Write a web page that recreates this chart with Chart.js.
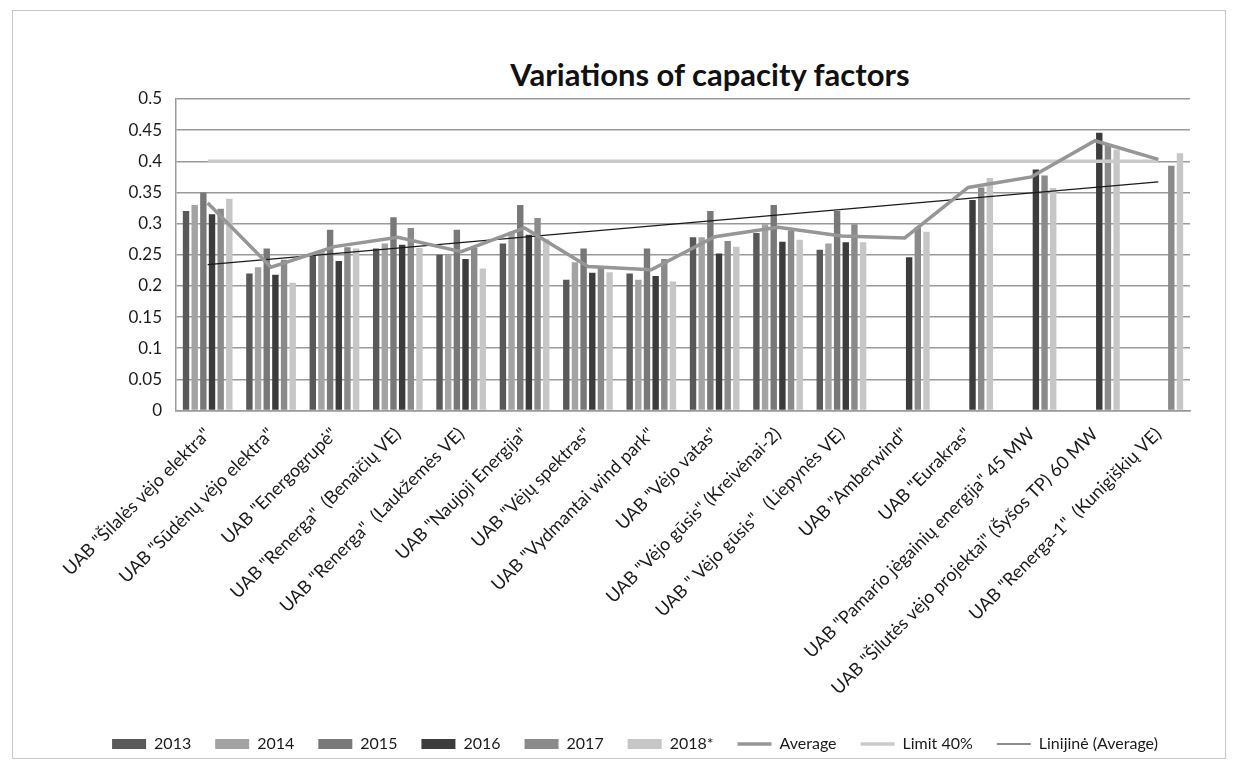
<!DOCTYPE html>
<html>
<head>
<meta charset="utf-8">
<script src="https://cdn.jsdelivr.net/npm/chart.js@4.4.1/dist/chart.umd.min.js"></script>
<style>
    html, body { margin: 0; padding: 0; background: #fff; }
    #wrap { position: relative; width: 1236px; height: 774px; }
    #frame { position: absolute; left: 12px; top: 10px; width: 1212px; height: 747px; border: 1px solid #c8c8c8; }
    #title { position: absolute; top: 55px; left: 0; width: 1420px; text-align: center; font: bold 31px Lato, sans-serif; color: #111; }
    canvas { position: absolute; left: 0; top: 0; }
</style>
</head>
<body>
<div id="wrap">
    <div id="frame"></div>
    <div id="title">Variations of capacity factors</div>
    <canvas id="cf" width="1236" height="774"></canvas>
</div>
<script>
const companies = [
    'UAB "Šilalės vėjo elektra"',
    'UAB "Sūdėnų vėjo elektra"',
    'UAB "Energogrupė"',
    'UAB "Renerga"  (Benaičių VE)',
    'UAB "Renerga"  (Laukžemės VE)',
    'UAB "Naujoji Energija"',
    'UAB "Vėjų spektras"',
    'UAB "Vydmantai wind park"',
    'UAB "Vėjo vatas"',
    'UAB "Vėjo gūsis" (Kreivėnai-2)',
    'UAB " Vėjo gūsis"   (Liepynės VE)',
    'UAB "Amberwind"',
    'UAB "Eurakras"',
    'UAB "Pamario jėgainių energija" 45 MW',
    'UAB "Šilutės vėjo projektai" (Šyšos TP) 60 MW',
    'UAB "Renerga-1"  (Kunigiškių VE)'
];

const cf2013 = [0.32, 0.22, 0.25, 0.26, 0.25, 0.268, 0.21, 0.22, 0.278, 0.285, 0.258, null, null, null, null, null];
const cf2014 = [0.33, 0.23, 0.257, 0.268, 0.25, 0.287, 0.238, 0.21, 0.278, 0.299, 0.268, null, null, null, null, null];
const cf2015 = [0.35, 0.26, 0.29, 0.31, 0.29, 0.33, 0.26, 0.26, 0.32, 0.33, 0.32, null, null, null, null, null];
const cf2016 = [0.315, 0.218, 0.24, 0.266, 0.243, 0.282, 0.221, 0.216, 0.252, 0.271, 0.27, 0.246, 0.338, 0.387, 0.446, null];
const cf2017 = [0.324, 0.242, 0.262, 0.293, 0.261, 0.309, 0.229, 0.243, 0.272, 0.289, 0.299, 0.294, 0.358, 0.377, 0.426, 0.393];
const cf2018 = [0.34, 0.205, 0.26, 0.261, 0.228, 0.275, 0.222, 0.207, 0.263, 0.274, 0.27, 0.287, 0.373, 0.357, 0.419, 0.413];

const average = [0.333, 0.23, 0.263, 0.278, 0.255, 0.293, 0.231, 0.226, 0.279, 0.294, 0.28, 0.277, 0.358, 0.375, 0.433, 0.403];
const limit40 = [0.4, 0.4, 0.4, 0.4, 0.4, 0.4, 0.4, 0.4, 0.4, 0.4, 0.4, 0.4, 0.4, 0.4, 0.4, 0.4];
// linear trend of the average: only the two end points, the line spans the gap
const trend = [0.234, null, null, null, null, null, null, null, null, null, null, null, null, null, null, 0.367];

const yTicks = [0, 0.05, 0.1, 0.15, 0.2, 0.25, 0.3, 0.35, 0.4, 0.45, 0.5];

const font = 'Lato, sans-serif';

function bars(label, data, color) {
    return {
        type: 'bar',
        label: label,
        data: data,
        backgroundColor: color,
        borderWidth: 0,
        order: 1
    };
}

function line(label, data, color, width) {
    return {
        type: 'line',
        label: label,
        data: data,
        borderColor: color,
        backgroundColor: color,
        borderWidth: width,
        pointRadius: 0,
        tension: 0,
        spanGaps: true,
        order: 0
    };
}

const datasets = [
    bars('2013', cf2013, '#595959'),
    bars('2014', cf2014, '#a3a3a3'),
    bars('2015', cf2015, '#787878'),
    bars('2016', cf2016, '#3c3c3c'),
    bars('2017', cf2017, '#8a8a8a'),
    bars('2018*', cf2018, '#c6c6c6'),
    line('Average', average, '#969696', 3.5),
    line('Limit 40%', limit40, '#cacaca', 3.5),
    line('Linijinė (Average)', trend, '#1a1a1a', 1.2)
];

new Chart(document.getElementById('cf'), {
    type: 'bar',
    data: {
        labels: companies,
        datasets
    },
    options: {
        responsive: false,
        animation: false,
        layout: {
            padding: { left: 80, right: 46, top: 99, bottom: 12 }
        },
        datasets: {
            bar: {
                categoryPercentage: 0.82,
                barPercentage: 0.74
            }
        },
        scales: {
            x: {
                grid: { display: false, drawTicks: false },
                border: { color: '#9a9a9a', width: 1.5 },
                ticks: {
                    autoSkip: false,
                    minRotation: 45,
                    maxRotation: 45,
                    padding: 13,
                    color: '#1a1a1a',
                    font: { family: font, size: 18 }
                }
            },
            y: {
                min: 0,
                max: 0.5,
                afterBuildTicks: axis => {
                    axis.ticks = yTicks.map(v => ({ value: v }));
                },
                afterFit: axis => {
                    axis.width = 96;
                },
                grid: { color: '#9a9a9a', lineWidth: 1.5, drawTicks: false },
                border: { color: '#9a9a9a', width: 1.5 },
                ticks: {
                    padding: 14,
                    color: '#1a1a1a',
                    font: { family: font, size: 17 },
                    callback: v => String(+v.toFixed(2))
                }
            }
        },
        plugins: {
            title: { display: false },
            tooltip: { enabled: false },
            legend: {
                position: 'bottom',
                labels: {
                    usePointStyle: true,
                    pointStyleWidth: 34,
                    boxHeight: 10,
                    padding: 24,
                    color: '#1a1a1a',
                    font: { family: font, size: 16 },
                    generateLabels: chart => {
                        const items = Chart.defaults.plugins.legend.labels.generateLabels(chart);
                        items.sort((a, b) => a.datasetIndex - b.datasetIndex);
                        items.forEach(item => {
                            const ds = chart.data.datasets[item.datasetIndex];
                            item.pointStyle = ds.type === 'line' ? 'line' : 'rect';
                        });
                        return items;
                    }
                }
            }
        }
    }
});
</script>
</body>
</html>
